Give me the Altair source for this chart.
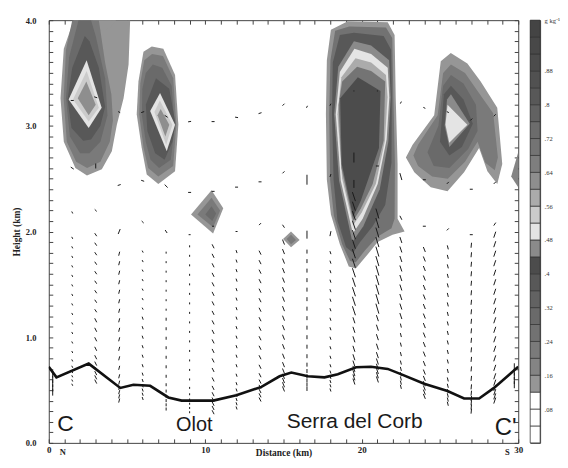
import altair as alt
import pandas as pd

# ---------------- terrain profile (distance km, height km) ----------------
terrain_x = [0.0, 0.49, 2.55, 4.57, 5.41, 6.48, 7.64, 8.49, 10.51, 11.99, 13.59, 14.75,
             15.5, 16.56, 17.62, 18.47, 19.64, 20.59, 21.66, 22.5, 23.99, 25.48, 26.54,
             27.5, 28.45, 30.0]
terrain_h = [0.72, 0.62, 0.75, 0.52, 0.55, 0.54, 0.43, 0.40, 0.40, 0.45, 0.53, 0.63,
             0.665, 0.63, 0.62, 0.65, 0.715, 0.72, 0.70, 0.65, 0.56, 0.49, 0.42,
             0.42, 0.52, 0.72]

# ---------------- colour bar (g/kg) ----------------
bin_edges = [0.00, 0.04, 0.08, 0.12, 0.16, 0.20, 0.24, 0.28, 0.32, 0.36, 0.40, 0.44, 0.48,
             0.52, 0.56, 0.60, 0.64, 0.68, 0.72, 0.76, 0.80, 0.84, 0.88, 0.92, 0.96, 1.00]
bin_colors = ["#ffffff", "#ffffff", "#ffffff", "#969696", "#848484", "#7a7a7a", "#727272",
              "#6a6a6a", "#626262", "#585858", "#4c4c4c", "#8a8a8a", "#e4e4e4", "#cbcbcb",
              "#ababab", "#8e8e8e", "#7e7e7e", "#747474", "#6c6c6c", "#626262", "#585858",
              "#515151", "#4c4c4c", "#484848", "#444444"]
cbar_labels = [0.08, 0.16, 0.24, 0.32, 0.40, 0.48, 0.56, 0.64, 0.72, 0.80, 0.88, 1.00]

# ---------------- contour rings: (value, [(distance, height), ...]) outermost first ----
blob_A = [
    (0.14, [(1.59, 4.0), (0.96, 3.73), (0.75, 3.26), (0.96, 2.85), (1.7, 2.60), (2.44, 2.53),
            (3.39, 2.59), (4.03, 2.76), (4.35, 3.01), (4.78, 3.26), (5.1, 3.58), (5.2, 4.0)]),
    (0.22, [(1.5, 4.0), (1.1, 3.72), (0.95, 3.26), (1.15, 2.85), (1.75, 2.66), (2.45, 2.6),
            (3.3, 2.66), (3.9, 2.85), (4.1, 3.05), (4.0, 3.3), (3.6, 3.6), (3.2, 4.0)]),
    (0.30, [(1.9, 4.0), (1.3, 3.65), (1.1, 3.26), (1.35, 2.9), (2.0, 2.74), (2.6, 2.74),
            (3.3, 2.85), (3.75, 3.1), (3.6, 3.45), (3.0, 3.85), (2.7, 4.0)]),
    (0.38, [(2.3, 3.85), (1.5, 3.55), (1.2, 3.25), (1.45, 2.98), (2.2, 2.86), (2.7, 2.87),
            (3.3, 3.0), (3.6, 3.18), (3.2, 3.55), (2.6, 3.8)]),
    (0.50, [(2.42, 3.62), (3.38, 3.17), (2.55, 2.98), (1.27, 3.25)]),
    (0.54, [(2.42, 3.52), (3.2, 3.17), (2.55, 3.04), (1.55, 3.25)]),
    (0.62, [(2.4, 3.42), (3.0, 3.2), (2.55, 3.1), (1.85, 3.26)]),
]
blob_A_top = [
    (0.14, [(2.8, 4.0), (3.2, 3.9), (3.9, 3.92), (4.3, 4.0)]),
]
blob_B = [
    (0.14, [(6.58, 3.75), (6.05, 3.70), (5.73, 3.42), (5.62, 3.11), (5.94, 2.79), (6.26, 2.54),
            (7.0, 2.45), (8.07, 2.57), (8.28, 3.01), (8.07, 3.48), (7.32, 3.73)]),
    (0.22, [(6.6, 3.68), (6.1, 3.62), (5.85, 3.4), (5.78, 3.11), (6.05, 2.8), (6.35, 2.6),
            (7.0, 2.52), (7.95, 2.62), (8.15, 3.01), (7.95, 3.45), (7.3, 3.66)]),
    (0.30, [(6.65, 3.58), (6.2, 3.5), (5.98, 3.35), (5.95, 3.1), (6.2, 2.85), (6.5, 2.68),
            (7.05, 2.6), (7.8, 2.68), (8.05, 3.0), (7.85, 3.38), (7.25, 3.55)]),
    (0.38, [(6.85, 3.45), (6.2, 3.2), (6.3, 2.95), (6.8, 2.74), (7.4, 2.68), (7.9, 2.85),
            (8.1, 3.02), (7.7, 3.35)]),
    (0.50, [(7.11, 3.31), (8.07, 3.01), (7.54, 2.76), (6.48, 3.14)]),
    (0.54, [(7.1, 3.24), (7.9, 3.01), (7.5, 2.82), (6.75, 3.13)]),
    (0.62, [(7.15, 3.16), (7.7, 3.01), (7.45, 2.9), (6.95, 3.1)]),
]
blob_C = [
    (0.14, [(10.4, 2.39), (11.15, 2.22), (10.5, 1.98), (9.09, 2.16)]),
    (0.22, [(10.4, 2.32), (10.95, 2.2), (10.5, 2.04), (9.5, 2.16)]),
    (0.30, [(10.4, 2.24), (10.7, 2.17), (10.45, 2.1), (10.0, 2.16)]),
]
blob_D = [
    (0.14, [(14.97, 1.93), (15.48, 2.0), (16.03, 1.92), (15.48, 1.85)]),
    (0.22, [(15.2, 1.93), (15.48, 1.97), (15.8, 1.92), (15.48, 1.88)]),
]
blob_E = [
    (0.14, [(18.03, 3.91), (17.77, 3.62), (17.71, 3.11), (17.77, 2.49), (18.03, 2.16),
            (18.6, 1.88), (19.17, 1.67), (19.62, 1.65), (20.25, 1.76), (21.02, 1.90),
            (21.97, 1.97), (22.74, 2.0), (22.29, 2.12), (22.29, 2.64), (22.17, 3.27),
            (22.1, 3.86), (21.66, 3.98), (19.11, 3.99)]),
    (0.26, [(18.3, 3.9), (18.0, 3.62), (17.92, 3.11), (17.98, 2.49), (18.22, 2.15),
            (18.75, 1.88), (19.25, 1.72), (19.62, 1.71), (20.2, 1.82), (21.0, 1.95),
            (21.9, 2.03), (22.1, 2.12), (22.12, 2.64), (22.02, 3.27), (21.95, 3.83),
            (21.55, 3.93), (19.2, 3.94)]),
    (0.38, [(18.6, 3.86), (18.15, 3.6), (18.1, 3.11), (18.2, 2.49), (18.45, 2.1),
            (19.0, 1.85), (19.45, 1.8), (19.9, 1.9), (20.7, 2.05), (21.5, 2.25),
            (21.9, 2.65), (21.92, 3.27), (21.88, 3.72), (21.4, 3.85), (19.5, 3.88)]),
    (0.46, [(19.5, 3.8), (20.6, 3.76), (21.75, 3.62), (21.85, 3.27), (21.7, 2.85),
            (21.15, 2.4), (20.1, 2.05), (19.4, 1.9), (18.55, 2.48), (18.24, 3.11), (18.5, 3.56)]),
    (0.50, [(19.53, 3.73), (20.6, 3.68), (21.66, 3.55), (21.76, 3.27), (21.59, 2.87),
            (21.02, 2.45), (20.06, 2.12), (19.43, 1.98), (18.66, 2.48), (18.34, 3.11), (18.6, 3.51)]),
    (0.58, [(19.6, 3.64), (20.6, 3.6), (21.55, 3.48), (21.65, 3.27), (21.48, 2.86),
            (20.9, 2.45), (20.0, 2.18), (19.45, 2.06), (18.75, 2.5), (18.45, 3.11), (18.7, 3.46)]),
    (0.70, [(19.7, 3.56), (20.6, 3.52), (21.5, 3.42), (21.4, 2.86), (20.7, 2.45),
            (19.95, 2.22), (19.45, 2.1), (18.7, 2.6), (18.52, 3.2), (18.75, 3.42)]),
    (0.90, [(18.62, 3.26), (19.75, 3.46), (21.2, 3.33), (21.1, 2.79), (19.94, 2.29),
            (19.45, 2.14), (18.72, 2.64)]),
]
blob_F = [
    (0.14, [(22.82, 2.70), (23.25, 2.82), (24.63, 3.1), (25.05, 3.61), (25.69, 3.69),
            (26.75, 3.59), (27.6, 3.42), (28.66, 3.17), (28.98, 2.64), (28.66, 2.45),
            (28.03, 2.57), (27.5, 2.79), (26.54, 2.56), (25.48, 2.38), (24.41, 2.42), (23.36, 2.56)]),
    (0.22, [(23.3, 2.72), (23.6, 2.82), (24.85, 3.1), (25.2, 3.5), (25.7, 3.58), (26.6, 3.5),
            (27.4, 3.33), (28.4, 3.12), (28.7, 2.7), (28.5, 2.58), (27.9, 2.65), (27.4, 2.85),
            (26.6, 2.66), (25.5, 2.5), (24.5, 2.52), (23.6, 2.62)]),
    (0.30, [(24.2, 2.75), (24.9, 3.0), (25.2, 3.38), (25.7, 3.48), (26.5, 3.4), (27.3, 3.2),
            (27.4, 2.95), (26.8, 2.78), (25.6, 2.6), (24.6, 2.62)]),
    (0.38, [(25.0, 2.85), (25.25, 3.3), (25.7, 3.38), (26.5, 3.25), (27.1, 3.02),
            (26.4, 2.8), (25.6, 2.72)]),
    (0.46, [(25.3, 3.0), (25.45, 3.25), (25.7, 3.3), (26.9, 3.02), (25.6, 2.8)]),
    (0.50, [(25.48, 3.2), (26.75, 3.01), (25.59, 2.84), (25.35, 3.01)]),
]
blob_G = [
    (0.18, [(29.55, 2.52), (30.0, 2.75), (30.0, 2.42)]),
]
blobs = {"A": blob_A, "At": blob_A_top, "B": blob_B, "C": blob_C, "D": blob_D,
         "E": blob_E, "F": blob_F, "G": blob_G}

# ---------------- wind vectors (components as drawn, in arrow-length pixels) ----------------
col_x = [0.25, 1.5, 3.0, 4.5, 6.0, 7.5, 9.0, 10.5, 12.0, 13.5, 15.0, 16.5, 18.0, 19.5,
         21.0, 22.5, 24.0, 25.5, 27.0, 28.5, 29.75]
col_base = [0.48, 0.55, 0.58, 0.40, 0.42, 0.32, 0.29, 0.29, 0.33, 0.41, 0.51, 0.51, 0.50,
            0.58, 0.60, 0.53, 0.44, 0.37, 0.30, 0.40, 0.55]
col_top = [0.70, 1.97, 1.97, 1.79, 1.88, 1.88, 1.88, 1.88, 1.88, 1.88, 1.97, 1.88, 1.88,
           2.33, 2.24, 1.97, 1.88, 1.88, 1.88, 1.97, 0.74]
col_u_low = [0, -1, -2, 1, -1, 0, 0, -2, -1, -2, -2, 0, -1, -2, -2, -1, -2, -1, 0.5, 2, 0]
col_w_low = [7, 2, 4, 4, 3, 3, 2, 4, 3, 4, 5, 4, 3, 6, 6, 4, 5, 4, 5, 6, 7]
col_u_high = [0, -1, -2, 1, -1, 0, 0, -2, -1, -2, -2, 0, -1, -3, -3, -2, -2, -1, 0.5, 2, 0]
col_w_high = [7, 2, 3, 4, 2, 2, 2, 4, 3, 4, 5, 4, 3, 9, 10, 6, 5, 4, 5, 6, 7]
level_offsets = [0.0, 0.04, 0.08, 0.12, 0.17, 0.23, 0.31, 0.40, 0.49, 0.58, 0.67, 0.76,
                 0.85, 0.94, 1.03, 1.12, 1.21, 1.30, 1.39, 1.48, 1.57, 1.66, 1.75, 1.84]

row_x = [1.5, 3.0, 4.5, 6.0, 7.5, 9.0, 10.5, 12.0, 13.5, 15.0, 16.5, 18.0, 19.5, 21.0,
         22.5, 24.0, 25.5, 27.0, 28.5]
row1_h = [3.24, 3.27, 3.13, 3.13, 3.09, 3.04, 3.04, 3.08, 3.12, 3.20, 3.18, 3.20, 3.33, 3.33,
          3.22, 3.17, 3.13, 3.06, 3.10]
row1_u = [-3, -3, -2, -3, 3, -3, -3, -3, -3, 2, 1, 1, 0, 0, 1, -2, -2, 2, 2]
row1_w = [0, 1, 1, -1, -2, -0.5, 0, 0.5, -1, 2, 2, 2, 1, 1, 2, 1, 1, 2, 2]
row2_h = [2.60, 2.62, 2.44, 2.48, 2.43, 2.37, 2.38, 2.42, 2.47, 2.56, 2.49, 2.53, 2.70, 2.62,
          2.52, 2.49, 2.46, 2.40, 2.46]
row2_u = [3, 0, -3, -3, 3, -3, -3, -3, -3, 2, 0, 1, 0, -3, 2, -3, 2, -3, 2]
row2_w = [-2, -5, -1, 1, -3, 0, 0, 0, 0, 2, -10, 3, 10, 0, -7, 0, 2, 0, 2]
row3_h = [2.18, 2.20, 2.00, 2.09, 2.00, 1.97, 2.05, 2.00, 2.07, 2.05, 1.97, 1.98, 2.45, 2.45,
          2.13, 2.05, 2.02, 1.97, 2.07]
row3_u = [-1, -2, 2, -2, -2, -2, -2, -2, 2, -2, 0, 1, 0, 0, 2, -3, 2, -3, 2]
row3_w = [2, 2, 5, 2, 3, 0, 0, 0, 2, 3, -8, 5, 8, 0, -4, 0, 2, 0, 3]

# ---------------- labels ----------------
place_text = ["C", "Olot", "Serra del Corb", "C'"]
place_x = [1.07, 9.3, 19.55, 29.2]
place_y = [0.11, 0.11, 0.14, 0.07]
place_size = [23, 20, 21, 24]
dir_text = ["N", "S"]
dir_x = [0.9, 29.3]
dir_y = [-0.05, -0.05]

# ================= build tables =================
PX_X = 1 / 15.7      # km per pixel (horizontal) for arrow drawing
PX_Y = 1 / 106.25    # km per pixel (vertical)

ring_rows = []
for name, rings in blobs.items():
    for k, (v, pts) in enumerate(rings):
        for i, (x, y) in enumerate(pts):
            ring_rows.append({"ring": f"{name}{k}", "k": k, "i": i, "x": x, "y": y, "v": v})
ring_df = pd.DataFrame(ring_rows)
max_k = int(ring_df["k"].max())

vec_rows = []
def add_vec(x, h, u, w):
    if u == 0 and w == 0:
        return
    dx, dy = u * PX_X, w * PX_Y
    vec_rows.append({"x1": x - dx / 2, "y1": h - dy / 2, "x2": x + dx / 2, "y2": h + dy / 2})

for j, x in enumerate(col_x):
    for off in level_offsets:
        h = col_base[j] + off
        if h > col_top[j] + 1e-6:
            break
        if h < 1.2:
            add_vec(x, h, col_u_low[j], col_w_low[j])
        else:
            add_vec(x, h, col_u_high[j], col_w_high[j])
for hs, us, ws in [(row1_h, row1_u, row1_w), (row2_h, row2_u, row2_w), (row3_h, row3_u, row3_w)]:
    for j, x in enumerate(row_x):
        add_vec(x, hs[j], us[j], ws[j])
vec_df = pd.DataFrame(vec_rows)

terrain_df = pd.DataFrame({"x": terrain_x, "y": terrain_h})
place_df = pd.DataFrame({"t": place_text, "x": place_x, "y": place_y, "s": place_size})
dir_df = pd.DataFrame({"t": dir_text, "x": dir_x, "y": dir_y})
cbar_df = pd.DataFrame({"lo": bin_edges[:-1], "hi": bin_edges[1:],
                        "mid": [(a + b) / 2 for a, b in zip(bin_edges[:-1], bin_edges[1:])]})

# ================= scales & axes =================
SERIF = "Liberation Serif"
SANS = "Liberation Sans"
x_scale = alt.Scale(domain=[0, 30], nice=False, zero=False)
y_scale = alt.Scale(domain=[0, 4], nice=False, zero=False)
color_scale = alt.Scale(type="threshold", domain=bin_edges[1:-1], range=bin_colors)

x_ticks = list(range(0, 31))
y_ticks = [round(i * 0.1, 1) for i in range(41)]

axis_common = dict(tickSize=4, offset=-4, domain=False, grid=False, tickColor="#444",
                   tickWidth=1, labelOverlap=False, labelFlush=False)
x_axis_bottom = alt.Axis(orient="bottom", values=x_ticks,
                         labelExpr="datum.value % 10 === 0 ? format(datum.value, 'd') : ''",
                         labelPadding=3, labelFont=SERIF, labelFontSize=9, labelFontWeight="bold",
                         labelColor="#222", title="Distance (km)", titleFont=SERIF,
                         titleFontSize=9.5, titleFontWeight="bold", titleColor="#222",
                         titleY=9, titleBaseline="top", **axis_common)
y_axis_left = alt.Axis(orient="left", values=y_ticks,
                       labelExpr="abs(datum.value - round(datum.value)) < 0.001 ? format(datum.value, '.1f') : ''",
                       labelPadding=13, labelFont=SERIF, labelFontSize=8.5, labelFontWeight="bold",
                       labelColor="#222", title="Height (km)", titleFont=SERIF, titleFontSize=9.5,
                       titleFontWeight="bold", titleColor="#222", titlePadding=4, **axis_common)
x_axis_top = alt.Axis(orient="top", values=x_ticks, labels=False, title=None, **axis_common)
y_axis_right = alt.Axis(orient="right", values=y_ticks, labels=False, title=None, **axis_common)


def X(field, axis=None):
    return alt.X(field, type="quantitative", scale=x_scale, axis=axis)


def Y(field, axis=None):
    return alt.Y(field, type="quantitative", scale=y_scale, axis=axis)


layers = []
for k in range(max_k + 1):
    layers.append(
        alt.Chart(ring_df)
        .transform_filter(alt.datum.k == k)
        .mark_line(filled=True, opacity=1, strokeWidth=0, clip=True)
        .encode(
            x=X("x", x_axis_bottom if k == 0 else None),
            y=Y("y", y_axis_left if k == 0 else None),
            order=alt.Order("i:Q"),
            detail="ring:N",
            color=alt.Color("v:Q", scale=color_scale, legend=None),
        )
    )

layers.append(
    alt.Chart(vec_df).mark_rule(color="#1a1a1a", strokeWidth=1, clip=True).encode(
        x=X("x1"), y=Y("y1"), x2="x2:Q", y2="y2:Q"
    )
)
layers.append(
    alt.Chart(terrain_df).mark_line(color="#111", strokeWidth=2.6, clip=True).encode(
        x=X("x", x_axis_top), y=Y("y", y_axis_right), order=alt.Order("x:Q")
    )
)
layers.append(
    alt.Chart(place_df).mark_text(font=SANS, color="#1a1a1a", align="center",
                                  baseline="alphabetic").encode(
        x=X("x"), y=Y("y"), text="t:N", size=alt.Size("s:Q", scale=None, legend=None)
    )
)
layers.append(
    alt.Chart(dir_df).mark_text(font=SERIF, fontSize=8.5, fontWeight="bold", color="#222",
                                align="center", baseline="top").encode(
        x=X("x"), y=Y("y"), text="t:N"
    )
)

main = alt.layer(*layers).resolve_axis(x="independent", y="independent").properties(
    width=472, height=425
)

cbar = alt.Chart(cbar_df).mark_rect(stroke="#333", strokeWidth=0.7).encode(
    y=alt.Y("lo:Q", scale=alt.Scale(domain=[0, 1], nice=False, zero=False),
            axis=alt.Axis(orient="right", values=cbar_labels, tickSize=0, domain=False,
                          grid=False, labelPadding=4, labelFont=SERIF, labelFontSize=6.5,
                          labelColor="#333", labelOverlap=False, labelFlush=False, title=None,
                          labelExpr="datum.value > 0.99 ? 'g kg⁻¹' : substring(format(datum.value, '.2~f'), 1)")),
    y2="hi:Q",
    x=alt.value(0),
    x2=alt.value(10),
    color=alt.Color("mid:Q", scale=color_scale, legend=None),
).properties(width=10, height=425)

chart = (
    alt.hconcat(main, cbar, spacing=6)
    .properties(padding={"left": 2, "top": 6, "right": 0, "bottom": 0}, background="white")
    .configure_view(stroke="#444", strokeWidth=1)
)

chart.save("out.html", embed_options={"renderer": "svg", "actions": False})
